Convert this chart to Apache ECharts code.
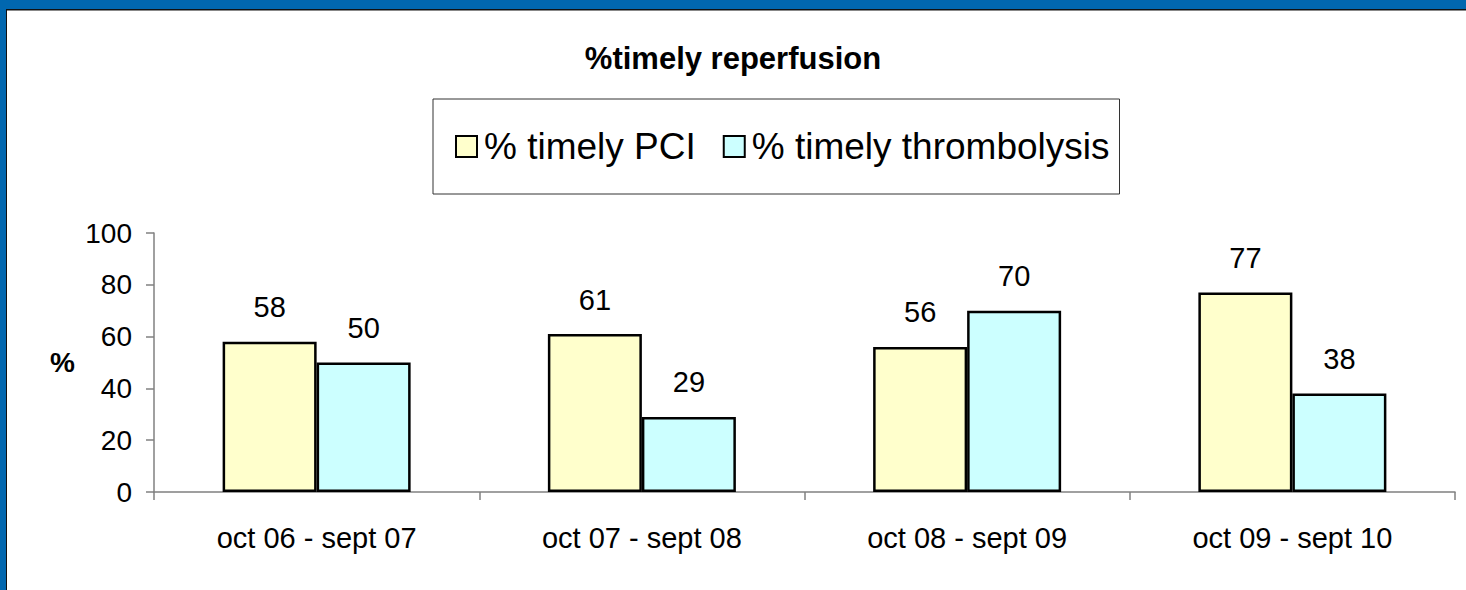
<!DOCTYPE html>
<html>
<head>
<meta charset="utf-8">
<script src="https://cdn.jsdelivr.net/npm/echarts@6/dist/echarts.min.js"></script>
<style>
  html, body { margin: 0; padding: 0; background: #ffffff; }
  #chart { width: 1466px; height: 590px; }
</style>
</head>
<body>
<div id="chart"></div>
<script>
const categories = ['oct 06 - sept 07', 'oct 07 - sept 08', 'oct 08 - sept 09', 'oct 09 - sept 10'];
const pciValues = [58, 61, 56, 77];
const thrombolysisValues = [50, 29, 70, 38];
const seriesNames = ['% timely PCI', '% timely thrombolysis'];
const yTicks = [0, 20, 40, 60, 80, 100];
const titleText = '%timely reperfusion';

const FONT = '"Liberation Sans", Arial, sans-serif';
const chart = echarts.init(document.getElementById('chart'), null, { renderer: 'svg' });

const labelStyle = { show: true, position: 'top', distance: 20, color: '#000', fontSize: 29, fontFamily: FONT };

chart.setOption({
  backgroundColor: '#ffffff',
  animation: false,
  graphic: [
    { type: 'rect', shape: { x: 0, y: 0, width: 1466, height: 9 }, style: { fill: '#0167AF' }, silent: true },
    { type: 'rect', shape: { x: 0, y: 0, width: 6, height: 590 }, style: { fill: '#0167AF' }, silent: true },
    { type: 'line', shape: { x1: 6, y1: 9.5, x2: 1466, y2: 9.5 }, style: { stroke: '#111', lineWidth: 1 }, silent: true },
    { type: 'line', shape: { x1: 6, y1: 10.5, x2: 1466, y2: 10.5 }, style: { stroke: '#888', lineWidth: 1 }, silent: true },
    { type: 'line', shape: { x1: 6.5, y1: 9, x2: 6.5, y2: 590 }, style: { stroke: '#111', lineWidth: 1 }, silent: true }
  ],
  title: {
    text: titleText,
    left: 'center',
    top: 38,
    textStyle: { fontSize: 31, fontWeight: 'bold', color: '#000', fontFamily: FONT }
  },
  legend: {
    data: seriesNames,
    left: 433,
    top: 99,
    orient: 'horizontal',
    padding: [29, 10, 29, 22],
    itemGap: 27,
    itemWidth: 21,
    itemHeight: 21,
    icon: 'rect',
    borderColor: '#333',
    borderWidth: 1,
    itemStyle: { borderColor: '#000', borderWidth: 2 },
    textStyle: { fontSize: 37, color: '#000', fontFamily: FONT, padding: [0, 0, 0, 2] }
  },
  grid: { left: 154, right: 11, top: 233, bottom: 98, containLabel: false },
  xAxis: {
    type: 'category',
    data: categories,
    axisLine: { lineStyle: { color: '#808080', width: 1.5 } },
    axisTick: { show: true, length: 8, alignWithLabel: false, lineStyle: { color: '#808080', width: 1.5 } },
    axisLabel: { color: '#000', fontSize: 29, fontFamily: FONT, margin: 31 }
  },
  yAxis: {
    type: 'value',
    min: 0,
    max: 100,
    interval: 20,
    name: '%',
    nameLocation: 'middle',
    nameRotate: 0,
    nameGap: 79,
    nameTextStyle: { fontSize: 28, fontWeight: 'bold', color: '#000', fontFamily: FONT },
    axisLine: { show: true, lineStyle: { color: '#808080', width: 1.5 } },
    axisTick: { show: true, length: 8, lineStyle: { color: '#808080', width: 1.5 } },
    splitLine: { show: false },
    axisLabel: {
      color: '#000', fontSize: 28, fontFamily: FONT, margin: 22,
      formatter: function (v) { return yTicks.indexOf(v) >= 0 ? String(v) : ''; }
    }
  },
  series: [
    {
      name: seriesNames[0],
      type: 'bar',
      data: pciValues,
      barWidth: 94,
      barGap: '0%',
      itemStyle: { color: '#FFFFCC', borderColor: '#000', borderWidth: 2.5 },
      label: labelStyle
    },
    {
      name: seriesNames[1],
      type: 'bar',
      data: thrombolysisValues,
      barWidth: 94,
      barGap: '0%',
      itemStyle: { color: '#CCFFFF', borderColor: '#000', borderWidth: 2.5 },
      label: labelStyle
    }
  ]
});
</script>
</body>
</html>
